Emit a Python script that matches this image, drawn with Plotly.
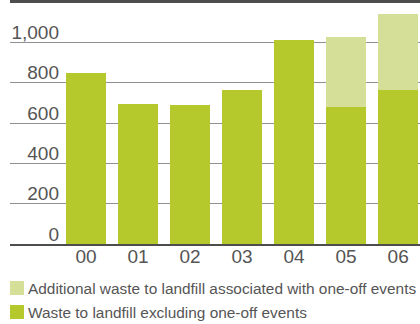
import plotly.graph_objects as go

years = ["00", "01", "02", "03", "04", "05", "06"]
base_waste = [848, 692, 687, 766, 1010, 678, 766]
additional_waste = [0, 0, 0, 0, 0, 347, 373]
y_ticks = [0, 200, 400, 600, 800, 1000]
y_tick_text = ["0", "200", "400", "600", "800", "1,000"]
legend_labels = ["Additional waste to landfill associated with one-off events",
                 "Waste to landfill excluding one-off events"]

dark_green = "#b5c92c"
light_green = "#d5df98"
text_color = "#555555"
font_family = "Liberation Sans, Arial, sans-serif"

fig = go.Figure()
fig.add_trace(go.Bar(x=years, y=base_waste, marker=dict(color=dark_green, line=dict(width=0)),
                     name=legend_labels[1], showlegend=False))
fig.add_trace(go.Bar(x=years, y=additional_waste, marker=dict(color=light_green, line=dict(width=0)),
                     name=legend_labels[0], showlegend=False))

fig.update_layout(
    width=420, height=324,
    margin=dict(l=10, r=0, t=2, b=80),
    barmode="stack", bargap=0.23,
    plot_bgcolor="white", paper_bgcolor="white",
    font=dict(family=font_family, color=text_color),
    xaxis=dict(range=[-1.46, 6.42], showline=True, mirror=True, linecolor="#4d4d4d",
               linewidth=2, ticks="", tickfont=dict(size=19, color=text_color),
               showgrid=False, ticklabelstandoff=-6),
    yaxis=dict(range=[0, 1200], tickvals=y_ticks, ticktext=y_tick_text,
               showgrid=True, gridcolor="#8f8f8f", gridwidth=1.2, zeroline=False,
               showline=False, ticks="", tickfont=dict(size=19, color=text_color),
               ticklabelposition="outside", ticklabelstandoff=-50, ticklabelshift=-10),
)

# top border line
fig.add_shape(type="line", xref="paper", yref="paper", x0=0, x1=1, y0=1, y1=1,
              line=dict(color="#4d4d4d", width=2))

# Legend drawn as squares + text in paper coordinates
legend_colors = [light_green, dark_green]
legend_y_px = [288, 312]
plot_h = 324 - 80 - 2
for label, color, ypx in zip(legend_labels, legend_colors, legend_y_px):
    yc = (324 - 80 - ypx) / plot_h
    half = 7 / plot_h
    fig.add_shape(type="rect", xref="paper", yref="paper",
                  x0=0, x1=14 / 410, y0=yc - half, y1=yc + half,
                  fillcolor=color, line=dict(width=0))
    fig.add_annotation(xref="paper", yref="paper", x=16 / 410, y=yc, text=label,
                       showarrow=False, xanchor="left", yanchor="middle",
                       font=dict(size=15.4, color=text_color, family=font_family))

fig.write_html("out.html")
